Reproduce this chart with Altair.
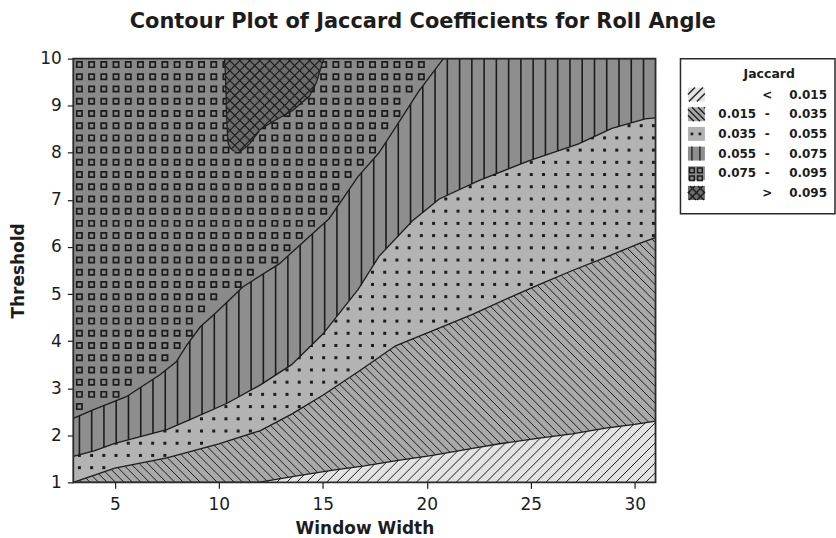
import altair as alt
import numpy as np
import pandas as pd

# Contour boundaries of the Jaccard coefficient: Threshold reached by each level
# as a function of Window Width.
b015_x = [3, 11.9, 13.9, 15.5, 17.0, 18.7, 20.2, 22.2, 23.5, 25.4, 27.0, 28.6, 30.0, 31]
b015_y = [1.0, 1.0, 1.15, 1.26, 1.35, 1.47, 1.57, 1.72, 1.82, 1.94, 2.03, 2.15, 2.23, 2.3]

b035_x = [3, 5, 7.5, 10, 12, 13.5, 15, 16.7, 18.5, 20, 22.2, 24, 25.4, 27, 28.6, 30.2, 31]
b035_y = [1.0, 1.3, 1.52, 1.82, 2.1, 2.45, 2.85, 3.35, 3.9, 4.17, 4.57, 4.93, 5.2, 5.5, 5.78, 6.07, 6.2]

b055_x = [3, 4, 5, 7.5, 8.75, 10.4, 12, 13.5, 15, 16.7, 17.7, 19.3, 20.6, 22.5, 24.9, 27.3, 28.9, 30.5, 31]
b055_y = [1.55, 1.67, 1.83, 2.12, 2.36, 2.68, 3.07, 3.5, 4.15, 5.1, 5.8, 6.55, 7.02, 7.41, 7.83, 8.19, 8.52, 8.72, 8.74]

b075_x = [3, 3.95, 5.55, 7.15, 7.95, 8.45, 9.1, 9.9, 11.15, 12.9, 14.3, 15.3, 16.7, 17.7, 18.7, 19.6, 20.8, 31]
b075_y = [2.36, 2.54, 2.82, 3.28, 3.56, 3.91, 4.3, 4.62, 5.15, 5.64, 6.2, 6.6, 7.5, 8.0, 8.68, 9.3, 10.0, 10.0]

# Region above 0.095: left and right edges by Threshold
peak_y = [8.03, 8.1, 8.2, 8.5, 8.7, 8.9, 9.2, 9.5, 9.8, 10.0]
peak_left = [10.75, 10.55, 10.45, 10.4, 10.38, 10.36, 10.35, 10.33, 10.3, 10.27]
peak_right = [11.0, 11.25, 11.5, 12.0, 12.75, 13.55, 14.35, 14.7, 14.9, 15.05]

# Legend
legend_from = ["", "0.015", "0.035", "0.055", "0.075", ""]
legend_sep = ["<", "-", "-", "-", "-", ">"]
legend_to = ["0.015", "0.035", "0.055", "0.075", "0.095", "0.095"]
level_fill = ["#e3e3e3", "#a9a9a9", "#b3b3b3", "#8e8e8e", "#8a8a8a", "#6c6c6c"]

x_ticks = [5, 10, 15, 20, 25, 30]
y_ticks = [1, 2, 3, 4, 5, 6, 7, 8, 9, 10]

INK = "#1c1c1c"
FONT = "DejaVu Sans"
W, H = 584, 425
X0, X1, Y0, Y1 = 3, 31, 1, 10
SX, SY = W / (X1 - X0), H / (Y1 - Y0)


# ---- fill-pattern geometry (pixel space, y pointing up) ----
def runs(mask):
    idx = np.flatnonzero(mask)
    if idx.size == 0:
        return []
    cut = np.flatnonzero(np.diff(idx) > 1)
    return list(zip(np.r_[idx[0], idx[cut + 1]], np.r_[idx[cut], idx[-1]]))


def hatch(box, gap, slope, keep, step=0.25):
    x0, x1, y0, y1 = box
    px = np.arange(x0, x1 + step / 2, step)
    rise = (x1 - x0) * slope
    lo, hi = y0 - max(rise, 0), y1 - min(rise, 0)
    segs = []
    for c in np.arange(lo, hi + gap, gap):
        py = c + slope * (px - x0)
        m = (py >= y0) & (py <= y1) & keep(px, py)
        for s, e in runs(m):
            if e > s:
                segs.append((px[s], py[s], px[e], py[e]))
    return segs


def vlines(box, gap, keep, step=0.25):
    x0, x1, y0, y1 = box
    py = np.arange(y0, y1 + step / 2, step)
    segs = []
    for x in np.arange(x0 + gap / 2, x1, gap):
        m = keep(np.full_like(py, x), py)
        for s, e in runs(m):
            if e > s:
                segs.append((x, py[s], x, py[e]))
    return segs


def grid(box, gap, keep, half=0.0, top_margin=None):
    x0, x1, y0, y1 = box
    top = y1 - (half if top_margin is None else top_margin)
    gx, gy = np.meshgrid(np.arange(x0 + gap / 2, x1 - half, gap),
                         np.arange(top, y0 + half, -gap))
    gx, gy = gx.ravel(), gy.ravel()
    m = np.ones_like(gx, dtype=bool)
    for dx in (-half, half):
        for dy in (-half, half):
            m &= keep(gx + dx, gy + dy)
    return gx[m], gy[m]


def everywhere(px, py):
    return np.ones_like(np.asarray(px, dtype=float), dtype=bool)


def in_plot(test):
    return lambda px, py: test(X0 + px / SX, Y0 + py / SY)


def above(bx, by):
    return in_plot(lambda x, y: y >= np.interp(x, bx, by))


def in_peak(x, y):
    inside = (y >= peak_y[0]) & (y <= peak_y[-1])
    return inside & (x >= np.interp(y, peak_y, peak_left)) & (x <= np.interp(y, peak_y, peak_right))


def seg_df(segs, scale=(SX, SY), origin=(X0, Y0)):
    a = np.array(segs, dtype=float).reshape(-1, 4)
    a = a / [scale[0], scale[1], scale[0], scale[1]] + [origin[0], origin[1], origin[0], origin[1]]
    return pd.DataFrame(a, columns=["x", "y", "x2", "y2"])


def pts_df(gx, gy, scale=(SX, SY), origin=(X0, Y0)):
    return pd.DataFrame({"x": gx / scale[0] + origin[0], "y": gy / scale[1] + origin[1]})


# ---- contour panel ----
xs = alt.Scale(domain=[X0, X1], nice=False, zero=False)
ys = alt.Scale(domain=[Y0, Y1], nice=False, zero=False)
x_axis = alt.Axis(values=x_ticks, title="Window Width", titlePadding=8, labelPadding=8)
y_axis = alt.Axis(values=y_ticks, title="Threshold", titlePadding=12, labelPadding=6)


def X():
    return alt.X("x:Q", scale=xs, axis=x_axis)


def Y():
    return alt.Y("y:Q", scale=ys, axis=y_axis)


def rules(df, width=1.0):
    return alt.Chart(df).mark_rule(color=INK, strokeWidth=width).encode(
        x=X(), y=Y(), x2="x2:Q", y2="y2:Q")


def band_above(bx, by, fill):
    df = pd.DataFrame({"x": bx, "y": by})
    return alt.Chart(df).mark_area(color=fill, opacity=1).encode(x=X(), y=Y(), y2=alt.datum(Y1))


one = pd.DataFrame({"k": [0]})
box = (0, W, 0, H)

background = alt.Chart(one).mark_rect(color=level_fill[0]).encode(
    x=alt.value(0), x2=alt.value(W), y=alt.value(0), y2=alt.value(H))
tex1 = rules(seg_df(hatch(box, 10, 1, everywhere)))

area2 = band_above(b015_x, b015_y, level_fill[1])
tex2 = rules(seg_df(hatch(box, 8.5, -1, above(b015_x, b015_y))))

area3 = band_above(b035_x, b035_y, level_fill[2])
dots = alt.Chart(pts_df(*grid(box, 12.25, above(b035_x, b035_y), half=1.8, top_margin=6))).mark_square(
    color=INK, size=9, opacity=1).encode(x=X(), y=Y())

area4 = band_above(b055_x, b055_y, level_fill[3])
tex4 = rules(seg_df(vlines(box, 12.3, above(b055_x, b055_y))), width=1.6)

area5 = band_above(b075_x, b075_y, level_fill[4])
squares = alt.Chart(pts_df(*grid(box, 12.25, above(b075_x, b075_y), half=3.4, top_margin=6))).mark_point(
    shape="square", filled=False, color=INK, size=28, strokeWidth=1.7, opacity=1).encode(x=X(), y=Y())

peak = alt.Chart(pd.DataFrame({"y": peak_y, "x": peak_left, "x2": peak_right})).mark_area(
    color=level_fill[5], orient="horizontal", opacity=1).encode(y=Y(), x=X(), x2="x2:Q")
peak_keep = in_plot(in_peak)
tex6 = rules(seg_df(hatch(box, 10, 1, peak_keep) + hatch(box, 10, -1, peak_keep)), width=1.2)

contours = pd.concat([
    pd.DataFrame({"x": bx, "y": by, "level": name})
    for name, bx, by in [("0.015", b015_x, b015_y), ("0.035", b035_x, b035_y),
                         ("0.055", b055_x, b055_y), ("0.075", b075_x, b075_y)]
])
contour_lines = alt.Chart(contours).mark_line(color=INK, strokeWidth=1.3).encode(
    x=X(), y=Y(), detail="level:N")

outline = pd.DataFrame({"x": peak_left + peak_right[::-1], "y": peak_y + peak_y[::-1]})
outline["i"] = range(len(outline))
peak_line = alt.Chart(outline).mark_line(color=INK, strokeWidth=1.2).encode(
    x=X(), y=Y(), order="i:Q")

frame = alt.Chart(one).mark_rect(filled=False, stroke="#2a2a2a", strokeWidth=1.8).encode(
    x=alt.value(0), x2=alt.value(W), y=alt.value(0), y2=alt.value(H))

main = alt.layer(
    background, tex1, area2, tex2, area3, dots, area4, tex4, area5, squares,
    peak, tex6, contour_lines, peak_line, frame
).properties(width=W, height=H)

# ---- legend panel (coordinates in pixels, y up) ----
LW, LH = 155, 155.5
lxs = alt.Scale(domain=[0, LW], nice=False, zero=False)
lys = alt.Scale(domain=[0, LH], nice=False, zero=False)
row_top = 36.0
row_step = 19.75
row_y = [LH - (row_top + row_step * i) for i in range(len(legend_to))]


def LX():
    return alt.X("x:Q", scale=lxs, axis=None)


def LY():
    return alt.Y("y:Q", scale=lys, axis=None)


sw_x0, sw_x1, sw_h = 7.5, 24.5, 7.0
swatches = pd.DataFrame({
    "x": sw_x0, "x2": sw_x1,
    "y": [r - sw_h for r in row_y], "y2": [r + sw_h for r in row_y],
    "fill": level_fill,
})
sw_rect = alt.Chart(swatches).mark_rect(opacity=1).encode(
    x=LX(), x2="x2:Q", y=LY(), y2="y2:Q", color=alt.Color("fill:N", scale=None))

unit = (1.0, 1.0)
zero = (0.0, 0.0)
sw_boxes = [(sw_x0, sw_x1, r - sw_h, r + sw_h) for r in row_y]
sw_segs = (hatch(sw_boxes[0], 8, 1, everywhere) + hatch(sw_boxes[1], 6, -1, everywhere)
           + vlines(sw_boxes[3], 8, everywhere)
           + hatch(sw_boxes[5], 8, 1, everywhere) + hatch(sw_boxes[5], 8, -1, everywhere))
sw_lines = alt.Chart(seg_df(sw_segs, unit, zero)).mark_rule(color=INK, strokeWidth=1.3).encode(
    x=LX(), y=LY(), x2="x2:Q", y2="y2:Q")
sw_dots = alt.Chart(pts_df(*grid(sw_boxes[2], 8, everywhere, top_margin=7), unit, zero)).mark_square(
    color=INK, size=7, opacity=1).encode(x=LX(), y=LY())
sw_sq = alt.Chart(pts_df(*grid(sw_boxes[4], 8, everywhere, top_margin=4), unit, zero)).mark_point(
    shape="square", filled=False, color=INK, size=22, strokeWidth=1.5, opacity=1).encode(x=LX(), y=LY())

labels = pd.DataFrame({"y": row_y, "lo": legend_from, "sep": legend_sep, "hi": legend_to})
txt = dict(font=FONT, fontSize=12, fontWeight="bold", color=INK, baseline="middle")
col_lo = alt.Chart(labels).mark_text(align="left", **txt).encode(
    x=alt.value(38), y=LY(), text="lo:N")
col_sep = alt.Chart(labels).mark_text(align="center", **txt).encode(
    x=alt.value(87), y=LY(), text="sep:N")
col_hi = alt.Chart(labels).mark_text(align="left", **txt).encode(
    x=alt.value(109), y=LY(), text="hi:N")
legend_title = alt.Chart(one).mark_text(align="center", **dict(txt, fontSize=12.5)).encode(
    x=alt.value(89), y=alt.value(15.5), text=alt.value("Jaccard"))
legend_frame = alt.Chart(one).mark_rect(filled=False, stroke="#2a2a2a", strokeWidth=1.5).encode(
    x=alt.value(0), x2=alt.value(LW), y=alt.value(0), y2=alt.value(LH))

legend = alt.layer(
    sw_rect, sw_lines, sw_dots, sw_sq, col_lo, col_sep, col_hi, legend_title, legend_frame
).properties(width=LW, height=LH)

chart = alt.hconcat(main, legend, spacing=21).properties(
    title=alt.TitleParams(
        "Contour Plot of Jaccard Coefficients for Roll Angle",
        font=FONT, fontSize=21, fontWeight="bold", color=INK, anchor="middle", offset=18),
    padding={"left": 9.5, "top": 10, "right": 0, "bottom": 0},
).configure_view(strokeWidth=0).configure_axis(
    grid=False, domain=False, tickSize=6, tickColor=INK, tickWidth=1.2,
    labelFont=FONT, labelFontSize=17, labelColor=INK,
    titleFont=FONT, titleFontSize=17, titleFontWeight="bold", titleColor=INK,
)

chart.save("out.html", embed_options={"renderer": "svg", "actions": False})
